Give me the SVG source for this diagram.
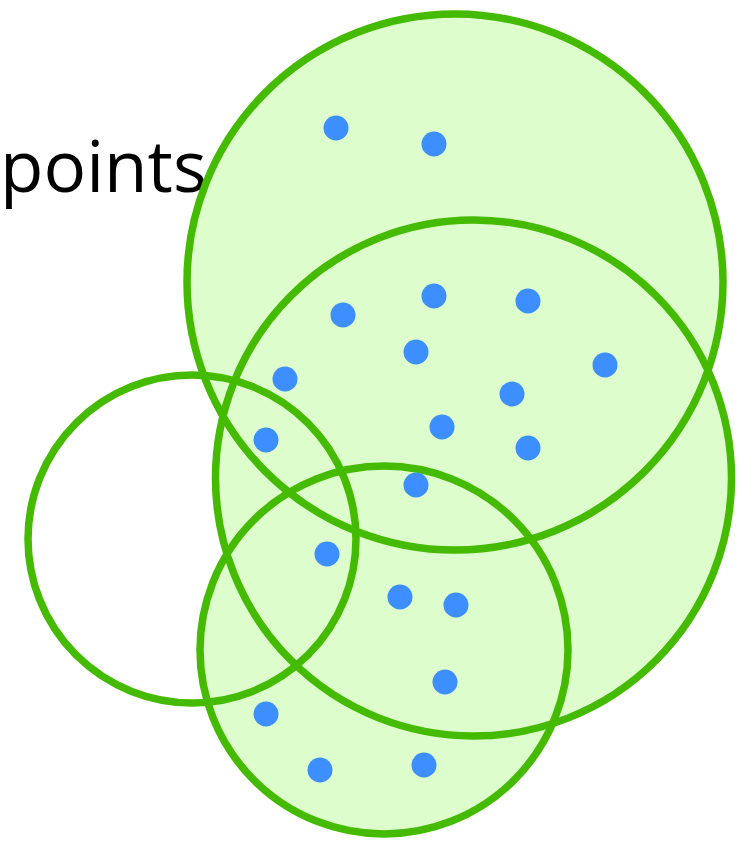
<svg xmlns="http://www.w3.org/2000/svg" width="739" height="842" viewBox="0 0 739 842">
<style>
.f{fill:#ddfdcc;stroke:none}
.s{fill:none;stroke:#44bb00;stroke-width:7.5}
.p{fill:#3d8eff}
.t{font-family:"Open Sans","Noto Sans",sans-serif;font-size:71px;fill:#000}
</style>
<rect width="739" height="842" fill="#fff"/>
<g id="label"><text class="t" x="0" y="192">points</text></g>
<g id="fills">
<circle class="f" cx="455" cy="282" r="268"/>
<circle class="f" cx="473.5" cy="478" r="258"/>
<circle class="f" cx="384" cy="650" r="184"/>
</g>
<g id="set-top"><circle class="s" cx="455" cy="282" r="268"/></g>
<g id="set-mid"><circle class="s" cx="473.5" cy="478" r="258"/></g>
<g id="set-left"><circle class="s" cx="192" cy="539" r="164"/></g>
<g id="set-bottom"><circle class="s" cx="384" cy="650" r="184"/></g>
<g id="points">
<circle class="p" cx="336" cy="128" r="12.5"/>
<circle class="p" cx="434" cy="144" r="12.5"/>
<circle class="p" cx="343" cy="315" r="12.5"/>
<circle class="p" cx="434" cy="296" r="12.5"/>
<circle class="p" cx="528" cy="301" r="12.5"/>
<circle class="p" cx="416" cy="352" r="12.5"/>
<circle class="p" cx="285" cy="379" r="12.5"/>
<circle class="p" cx="605" cy="365" r="12.5"/>
<circle class="p" cx="512" cy="394" r="12.5"/>
<circle class="p" cx="266" cy="440" r="12.5"/>
<circle class="p" cx="442" cy="427" r="12.5"/>
<circle class="p" cx="528" cy="448" r="12.5"/>
<circle class="p" cx="416" cy="485" r="12.5"/>
<circle class="p" cx="327" cy="554" r="12.5"/>
<circle class="p" cx="400" cy="597" r="12.5"/>
<circle class="p" cx="456" cy="605" r="12.5"/>
<circle class="p" cx="445" cy="682" r="12.5"/>
<circle class="p" cx="266" cy="714" r="12.5"/>
<circle class="p" cx="320" cy="770" r="12.5"/>
<circle class="p" cx="424" cy="765" r="12.5"/>
</g>
</svg>
